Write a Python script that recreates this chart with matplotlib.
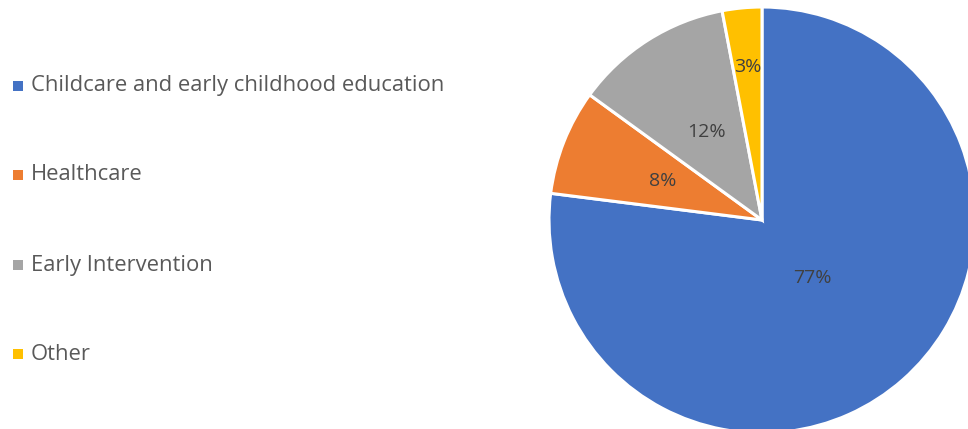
import numpy as np
import matplotlib.pyplot as plt
from matplotlib.patches import Rectangle

# data
categories = ["Childcare and early childhood education", "Healthcare",
              "Early Intervention", "Other"]
shares = [77, 8, 12, 3]
colors = ["#4472C4", "#ED7D31", "#A5A5A5", "#FFC000"]
# how far out each percentage label sits (fraction of radius)
label_radius = [0.36, 0.50, 0.49, 0.72]

plt.rcParams['font.family'] = ['Open Sans', 'DejaVu Sans']

W, H = 968, 429
fig = plt.figure(figsize=(W / 100, H / 100), dpi=100)

# pie axes: centre ~ (762, 220) px, radius ~ 213 px (cut at bottom/right)
cx, cy, r = 762, 220, 213
ax = fig.add_axes([(cx - r) / W, (H - cy - r) / H, 2 * r / W, 2 * r / H])
wedges, _ = ax.pie(shares, colors=colors, startangle=90, counterclock=False,
                   radius=1, wedgeprops=dict(edgecolor="white", linewidth=2.2))
ax.set_xlim(-1, 1)
ax.set_ylim(-1, 1)
ax.set_aspect("equal")
ax.axis("off")

for w, v, d in zip(wedges, shares, label_radius):
    ang = np.deg2rad((w.theta1 + w.theta2) / 2)
    ax.text(d * np.cos(ang), d * np.sin(ang), f"{v}%", ha="center", va="center",
            fontsize=14, color="#404040")

# legend on the left
row_y = [86, 175, 265, 354]
for lab, col, y in zip(categories, colors, row_y):
    fig.patches.append(Rectangle(((13) / W, (H - y - 5) / H), 10 / W, 10 / H,
                                 transform=fig.transFigure, facecolor=col,
                                 edgecolor="none"))
    fig.text(31 / W, (H - y) / H, lab, ha="left", va="center",
             fontsize=15.8, color="#595959")

fig.savefig("out.png", dpi=100)
